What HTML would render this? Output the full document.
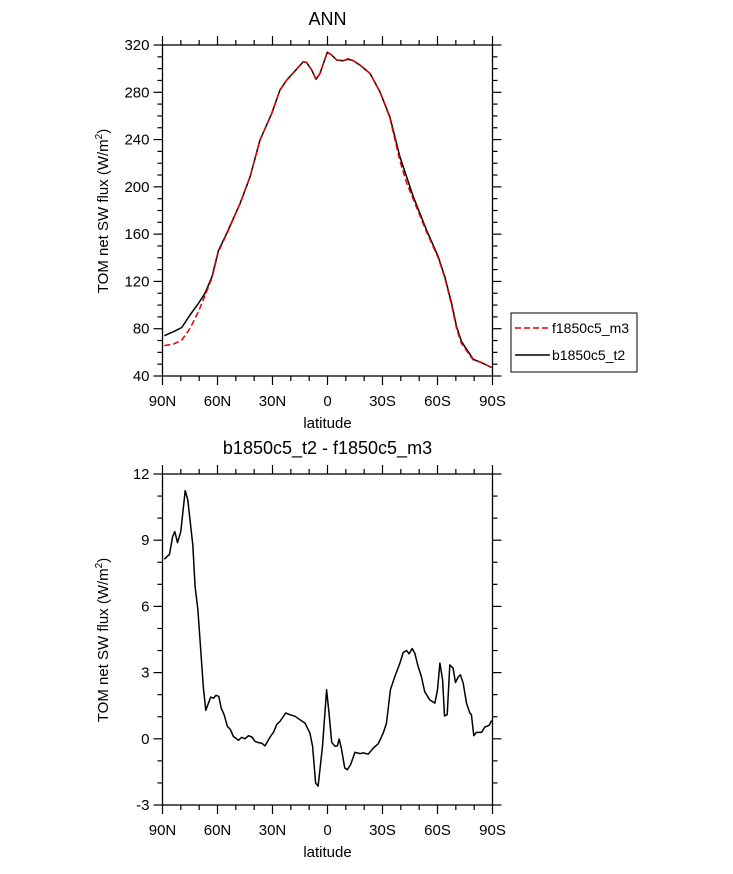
<!DOCTYPE html>
<html><head><meta charset="utf-8"><style>
body{margin:0;background:#fff}
svg text{font-family:"Liberation Sans",Arial,sans-serif;fill:#000}
</style></head><body>
<svg id="svg" width="733" height="869" xmlns="http://www.w3.org/2000/svg"></svg>
<script>
const xTickLats=[90,60,30,0,-30,-60,-90];
const xTickLabels=["90N","60N","30N","0","30S","60S","90S"];
const topYTicks=[40,80,120,160,200,240,280,320];
const botYTicks=[-3,0,3,6,9,12];
const blackLat=[89,84,79.5,75,70.4,66.8,63,59.5,55,47.7,42.2,36.8,30.4,25.9,22.2,18.6,13.2,11.4,8.6,6.3,4.1,0.1,-2.3,-5,-8.6,-11.4,-14.1,-17.7,-23.2,-28.6,-34,-39.5,-46.8,-54,-60.4,-64,-67.7,-70.4,-73.1,-76.7,-79.5,-84,-86.7,-89.5];
const blackVal=[74.1,77.5,81,91.6,101.4,110,124,146,160.7,186,208.6,239.6,262.2,282,290.4,296.6,305.9,305.3,298.8,291,296,313.8,311.5,307.3,306.7,307.9,306.7,303,296,280.5,259.4,225.5,191.7,163.5,141,124,101.4,81.7,69.1,60.6,54.1,51.3,49.3,47.3];
const redLat=[89,84,79.5,75,70.4,66.8,63,59.5,55,47.7,42.2,36.8,30.4,25.9,22.2,18.6,13.2,11.4,8.6,6.3,4.1,0.1,-2.3,-5,-8.6,-11.4,-14.1,-17.7,-23.2,-28.6,-34,-39.5,-43.2,-46.8,-54,-60.4,-64,-67.7,-70.4,-73.1,-76.7,-79.5,-84,-86.7,-89.5];
const redVal=[65.7,67,70.4,80.3,94.4,108,123,145,160,186,208.6,239.6,262.2,282,290.4,296.6,305.9,305.3,298.8,291,296,313.8,311.5,307.3,306.7,308.5,306.7,303,296,280.5,258.5,222,203,189.5,162,140,123,100,80,67.5,59.5,53.5,51.3,49.3,47.3];
const diffLat=[89,86.2,84.5,83.3,81.8,80,77.6,76.2,73.5,72.2,70.7,67.7,66.4,63.7,62.2,60.8,59.3,58,56.4,54.6,53.1,51.3,48.6,46.8,45,43.1,41.3,39.5,37.7,35.9,34.1,31.3,29.5,27.7,25.9,22.8,20.5,17.7,15,12.3,9.6,8.1,6.5,5.1,2.7,0.5,-0.8,-2.3,-4.1,-5.4,-6.4,-7.7,-9.4,-10.8,-12.6,-15,-17.7,-19.5,-22.2,-25,-27.7,-30.4,-32.2,-34.3,-36.7,-39.5,-41.3,-43.1,-44.5,-46.2,-47.6,-49.4,-51.2,-53,-55.7,-58.6,-60,-61.3,-62.8,-63.8,-65.3,-66.7,-68.5,-69.8,-71.3,-72.5,-74,-75.8,-77.6,-78.5,-79.8,-81.2,-84,-85.8,-88.2,-89.5];
const diffVal=[8.14,8.36,9.16,9.39,8.89,9.39,11.25,10.82,8.79,6.9,5.84,2.3,1.29,1.89,1.84,1.97,1.92,1.39,1.09,0.56,0.44,0.11,-0.07,0.07,0,0.14,0.08,-0.12,-0.17,-0.2,-0.32,0.08,0.29,0.64,0.79,1.17,1.09,1.02,0.86,0.71,0.26,-0.34,-2,-2.15,-0.34,2.22,1.17,-0.16,-0.34,-0.32,-0.01,-0.49,-1.32,-1.4,-1.17,-0.61,-0.67,-0.64,-0.7,-0.42,-0.22,0.26,0.71,2.22,2.82,3.43,3.91,4,3.85,4.09,3.88,3.28,2.82,2.14,1.77,1.62,2.22,3.43,2.67,1.04,1.09,3.35,3.2,2.55,2.8,2.9,2.52,1.62,1.17,1.09,0.14,0.29,0.29,0.53,0.61,0.83];

const NS="http://www.w3.org/2000/svg";
const svg=document.getElementById('svg');
function el(tag,attrs,parent){const e=document.createElementNS(NS,tag);for(const k in attrs)e.setAttribute(k,attrs[k]);(parent||svg).appendChild(e);return e;}
const L=162.5,R=492.5;
const xs=lat=>L+(90-lat)/180*(R-L);

function panel(name,top,bot,ymin,ymax,yticks,yminor,title,ylabelY){
  const g=el('g',{});
  
  
  const ys=v=>bot-(v-ymin)/(ymax-ymin)*(bot-top);
  const t=el('text',{x:(L+R)/2,y:top-20,'text-anchor':'middle','font-size':18},g);
  t.textContent=title;
  
  
  const fr=el('rect',{x:L,y:top,width:R-L,height:bot-top,fill:'none',stroke:'#000','stroke-width':1.3},g);
  
  
  for(let lat=90;lat>=-90;lat-=10){
    const major=lat%30===0, len=major?9:5, x=xs(lat);
    el('line',{x1:x,x2:x,y1:bot,y2:bot+len,stroke:'#000','stroke-width':1.2},g);
    el('line',{x1:x,x2:x,y1:top,y2:top-len,stroke:'#000','stroke-width':1.2},g);
  }
  xTickLats.forEach((lat,i)=>{
    const tx=el('text',{x:xs(lat),y:bot+30,'text-anchor':'middle','font-size':15},g);
    tx.textContent=xTickLabels[i];
    
    
  });
  for(let v=ymin;v<=ymax+1e-9;v+=yminor){
    const major=yticks.some(t=>Math.abs(t-v)<1e-6), len=major?9:5, y=ys(v);
    el('line',{x1:L,x2:L-len,y1:y,y2:y,stroke:'#000','stroke-width':1.2},g);
    el('line',{x1:R,x2:R+len,y1:y,y2:y,stroke:'#000','stroke-width':1.2},g);
  }
  yticks.forEach(v=>{
    const ty=el('text',{x:L-13,y:ys(v)+5,'text-anchor':'end','font-size':15},g);
    ty.textContent=v;
    
    
  });
  const xl=el('text',{x:(L+R)/2,y:bot+52,'text-anchor':'middle','font-size':15},g);
  xl.textContent='latitude';
  
  
  const yl=el('text',{x:0,y:0,'text-anchor':'middle','font-size':15,transform:`translate(108,${ylabelY}) rotate(-90)`},g);
  yl.innerHTML='TOM net SW flux (W/m<tspan dy="-6" font-size="10">2</tspan><tspan dy="6">)</tspan>';
  
  
  return ys;
}
function line(lats,vals,ys,color,dash,name){
  const d=lats.map((la,i)=>(i?'L':'M')+xs(la).toFixed(1)+' '+ys(vals[i]).toFixed(1)).join(' ');
  const p=el('path',{d:d,fill:'none',stroke:color,'stroke-width':1.5,'stroke-dasharray':dash||'none','stroke-linejoin':'round'});
  
  
}
const ys1=panel('top-panel',45,376,40,320,topYTicks,10,'ANN',211);
line(blackLat,blackVal,ys1,'#000',null,'series-b1850c5-t2');
line(redLat,redVal,ys1,'#e00000','6,3','series-f1850c5-m3');
const ys2=panel('bottom-panel',474,805,-3,12,botYTicks,1,'b1850c5_t2 - f1850c5_m3',640);
line(diffLat,diffVal,ys2,'#000',null,'series-difference');

const lg=el('g',{});


el('rect',{x:511,y:313,width:126,height:59,fill:'#fff',stroke:'#000','stroke-width':1},lg);
el('line',{x1:515,x2:550,y1:328,y2:328,stroke:'#e00000','stroke-width':1.5,'stroke-dasharray':'6,3'},lg);
el('line',{x1:515,x2:550,y1:355,y2:355,stroke:'#000','stroke-width':1.5},lg);
const l1=el('text',{x:552,y:333,'font-size':14},lg);l1.textContent='f1850c5_m3';


const l2=el('text',{x:552,y:360,'font-size':14},lg);l2.textContent='b1850c5_t2';


</script>
</body></html>
